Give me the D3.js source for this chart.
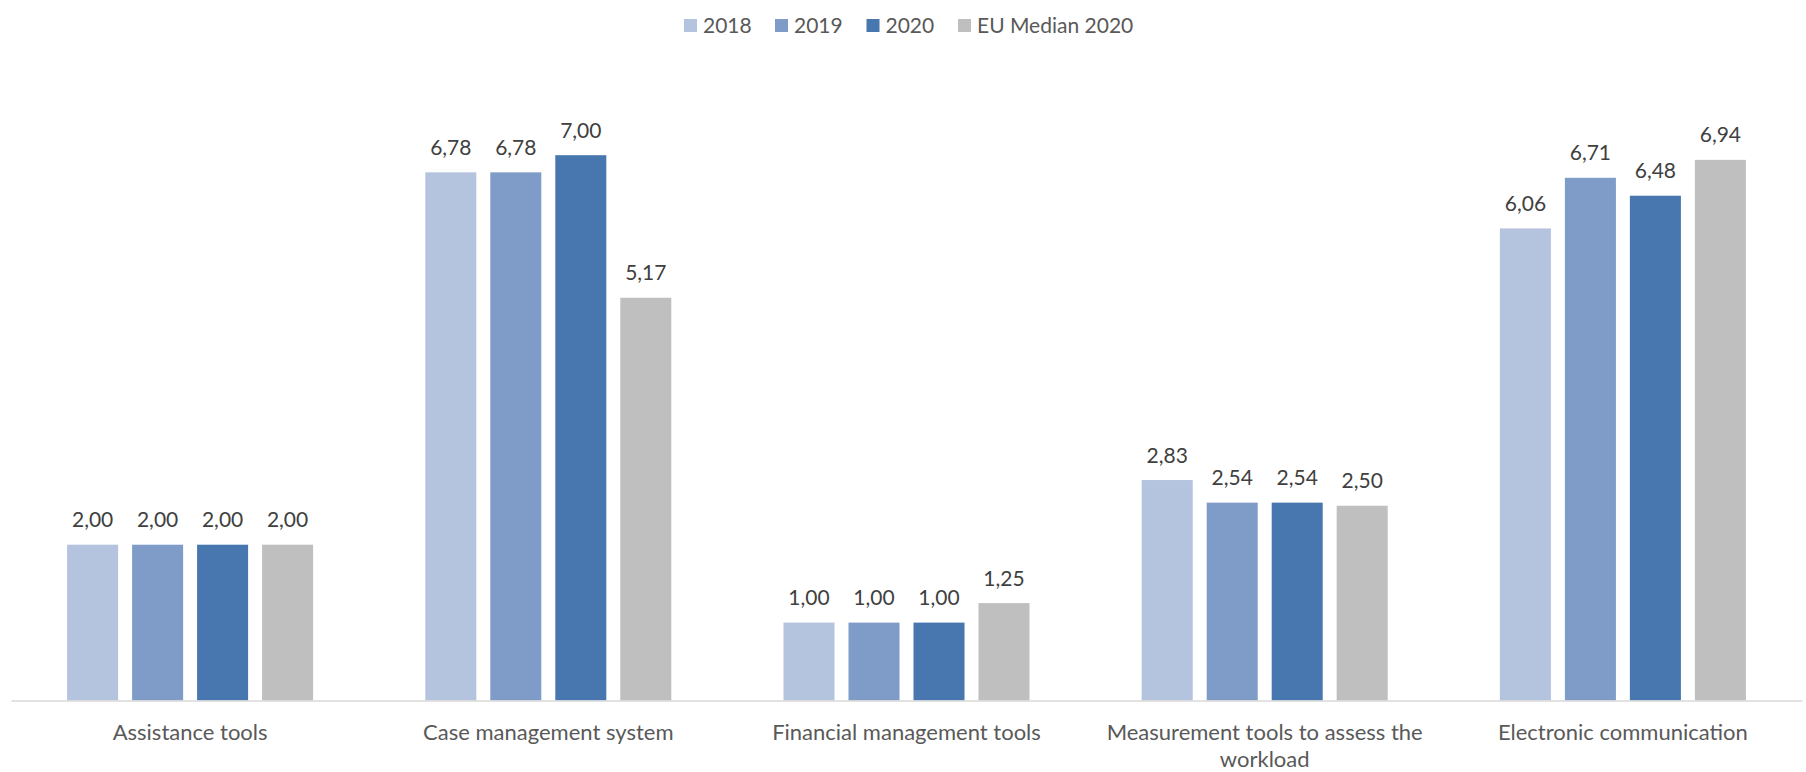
<!DOCTYPE html>
<html><head><meta charset="utf-8">
<script src="https://cdn.jsdelivr.net/npm/d3@7"></script>
<style>html,body{margin:0;padding:0;background:#fff;}svg{display:block;}</style>
</head><body>
<svg id="chart" width="1806" height="772"></svg>
<script>
const categories = ["Assistance tools","Case management system","Financial management tools","Measurement tools to assess the workload","Electronic communication"];
const seriesNames = ["2018","2019","2020","EU Median 2020"];
const values2018 = [2.00, 6.78, 1.00, 2.83, 6.06];
const values2019 = [2.00, 6.78, 1.00, 2.54, 6.71];
const values2020 = [2.00, 7.00, 1.00, 2.54, 6.48];
const valuesEU   = [2.00, 5.17, 1.25, 2.50, 6.94];
const colors = ["#B4C3DE","#7F9CC8","#4877AF","#BFBFBF"];

const allSeries = [values2018, values2019, values2020, valuesEU];
const svg = d3.select("#chart");
const font = "Lato, 'Open Sans', sans-serif";
const left = 11, right = 1802, baseY = 700.5;

const x0 = d3.scaleBand().domain(categories).range([left, right]).paddingInner(0).paddingOuter(0);
const groupW = 246;
const x1 = d3.scaleBand().domain(seriesNames).range([0, groupW]).paddingInner(0.215).paddingOuter(0);
const y = d3.scaleLinear().domain([0, 8]).range([baseY, baseY - 8*77.9]);

// bars
const g = svg.append("g");
categories.forEach((c, ci) => {
  const gx = x0(c) + (x0.bandwidth() - groupW) / 2;
  seriesNames.forEach((s, si) => {
    const v = allSeries[si][ci];
    g.append("rect")
      .attr("x", gx + x1(s)).attr("y", y(v))
      .attr("width", x1.bandwidth()).attr("height", y(0) - y(v))
      .attr("fill", colors[si]);
    g.append("text")
      .attr("x", gx + x1(s) + x1.bandwidth()/2).attr("y", y(v) - 17.5)
      .attr("text-anchor", "middle").attr("font-family", font).attr("font-size", 21)
      .attr("fill", "#404040").text(d3.format(".2f")(v).replace(".", ","));
  });
});

// axis
const xAxis = d3.axisBottom(x0).tickSize(0).tickPadding(0);
const ax = svg.append("g").attr("transform", `translate(0,${baseY})`).call(xAxis);
ax.select(".domain").attr("stroke", "#D9D9D9").attr("stroke-width", 1.5);
ax.selectAll(".tick text").remove();
ax.selectAll(".tick").each(function(d) {
  const t = d3.select(this).append("text")
    .attr("text-anchor", "middle").attr("font-family", font).attr("font-size", 22)
    .attr("fill", "#595959");
  const words = d.split(" ");
  let lines = [], line = [];
  const maxW = 330;
  const tmp = t.append("tspan");
  words.forEach(w => {
    line.push(w);
    tmp.text(line.join(" "));
    if (tmp.node().getComputedTextLength() > maxW && line.length > 1) {
      line.pop(); lines.push(line.join(" ")); line = [w];
    }
  });
  lines.push(line.join(" "));
  tmp.remove();
  lines.forEach((l, i) => {
    t.append("tspan").attr("x", 0).attr("y", 39.5 + i*27).text(l);
  });
});

// legend
const legendX = [684, 775, 866.5, 958];
const leg = svg.append("g");
seriesNames.forEach((name, i) => {
  leg.append("rect").attr("x", legendX[i]).attr("y", 19).attr("width", 13).attr("height", 13).attr("fill", colors[i]);
  leg.append("text").attr("x", legendX[i] + 19).attr("y", 32.5)
    .attr("font-family", font).attr("font-size", 21).attr("fill", "#595959").text(name);
});
</script>
</body></html>
